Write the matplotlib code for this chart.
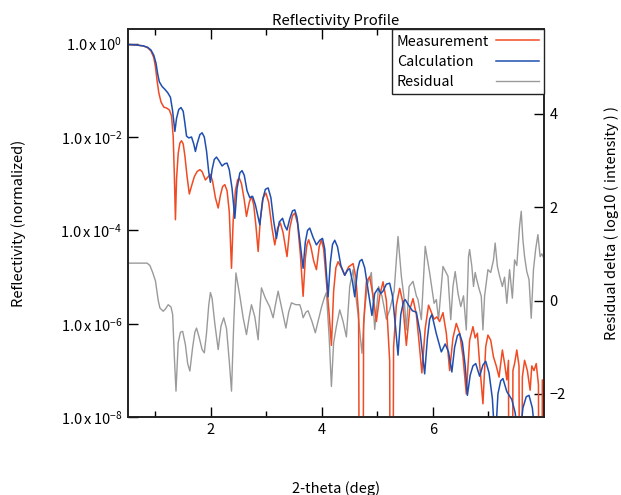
import numpy as np
import matplotlib
matplotlib.use("Agg")
import matplotlib.pyplot as plt
from matplotlib.ticker import FixedLocator

plt.rcParams['font.family'] = ['Noto Sans CJK JP', 'DejaVu Sans']
plt.rcParams['axes.unicode_minus'] = True

# ---------------- data ----------------
meas_x = [0.50, 0.65, 0.78, 0.86, 0.92, 0.97, 1.00, 1.03, 1.06, 1.10, 1.15, 1.20, 1.25, 1.29,
          1.32, 1.34, 1.36, 1.38, 1.41, 1.44, 1.47, 1.50, 1.53, 1.57, 1.61, 1.65, 1.70, 1.75,
          1.80, 1.84, 1.90, 1.95, 1.99, 2.03, 2.08, 2.13, 2.17, 2.21, 2.25, 2.29, 2.33, 2.37,
          2.40, 2.44, 2.48, 2.51, 2.55, 2.60, 2.64, 2.69, 2.73, 2.77, 2.81, 2.85, 2.89, 2.94,
          2.99, 3.04, 3.10, 3.15, 3.20, 3.25, 3.30, 3.37, 3.42, 3.47, 3.51, 3.56, 3.61, 3.66,
          3.70, 3.73, 3.76, 3.80, 3.85, 3.90, 3.95, 3.99, 4.03, 4.08, 4.13, 4.17, 4.21, 4.25,
          4.29, 4.35, 4.41, 4.48, 4.56, 4.61, 4.66, 4.70, 4.72, 4.75, 4.80, 4.86, 4.92, 4.98,
          5.04, 5.10, 5.16, 5.22, 5.25, 5.29, 5.34, 5.40, 5.45, 5.52, 5.58, 5.64, 5.70, 5.75,
          5.80, 5.86, 5.92, 5.97, 6.02, 6.07, 6.12, 6.18, 6.24, 6.30, 6.36, 6.42, 6.48, 6.54,
          6.60, 6.66, 6.72, 6.76, 6.80, 6.84, 6.90, 6.95, 6.99, 7.04, 7.09, 7.14, 7.19, 7.25,
          7.29, 7.33, 7.36, 7.39, 7.41, 7.44, 7.47, 7.51, 7.55, 7.58, 7.61, 7.65, 7.70, 7.75,
          7.78, 7.82, 7.86, 7.90, 7.93, 7.95, 7.97, 8.00]
meas_log10 = [-0.02, -0.03, -0.05, -0.09, -0.16, -0.30, -0.50, -0.80, -1.05, -1.25, -1.36, -1.38, -1.42, -1.55,
              -2.00, -2.80, -3.77, -2.90, -2.35, -2.13, -2.08, -2.15, -2.40, -2.85, -3.22, -3.05, -2.85, -2.74,
              -2.70, -2.74, -2.92, -2.85, -2.80, -2.95, -3.30, -3.52, -3.25, -3.06, -3.02, -3.15, -3.60, -4.81,
              -3.80, -3.15, -2.92, -2.88, -3.00, -3.35, -3.70, -3.40, -3.27, -3.45, -3.90, -4.45, -3.75, -3.30,
              -3.20, -3.40, -3.95, -4.31, -3.95, -3.84, -4.05, -4.56, -3.95, -3.68, -3.63, -3.85, -4.50, -5.41,
              -4.60, -4.30, -4.20, -4.35, -4.65, -4.84, -4.35, -4.20, -4.40, -5.10, -5.80, -6.46, -5.30, -4.80,
              -4.67, -4.80, -4.96, -4.78, -4.71, -5.00, -5.80, -20.0, -20.0, -6.00, -5.10, -4.99, -5.40, -5.95,
              -5.40, -5.10, -5.50, -6.80, -20.0, -6.50, -5.60, -5.24, -5.50, -6.46, -5.70, -5.46, -5.80, -6.40,
              -7.05, -6.10, -5.60, -5.75, -5.90, -5.85, -5.95, -5.76, -6.20, -7.00, -6.30, -5.99, -6.20, -6.70,
              -7.50, -6.35, -6.06, -6.30, -6.20, -6.85, -7.71, -6.49, -6.24, -6.35, -6.71, -6.90, -7.14, -6.56,
              -6.85, -7.20, -6.78, -20.0, -20.0, -7.00, -6.85, -6.56, -6.90, -20.0, -7.14, -6.78, -7.00, -7.42,
              -6.90, -7.00, -6.85, -7.30, -20.0, -20.0, -7.20, -7.30]

calc_x = [0.50, 0.65, 0.78, 0.86, 0.92, 0.97, 1.01, 1.04, 1.07, 1.12, 1.17, 1.22, 1.27, 1.31,
          1.35, 1.38, 1.42, 1.46, 1.50, 1.53, 1.56, 1.60, 1.65, 1.69, 1.72, 1.75, 1.80, 1.84,
          1.88, 1.92, 1.96, 1.99, 2.02, 2.06, 2.10, 2.14, 2.20, 2.25, 2.29, 2.33, 2.38, 2.43,
          2.47, 2.52, 2.56, 2.60, 2.65, 2.70, 2.75, 2.80, 2.88, 2.93, 2.98, 3.03, 3.08, 3.13,
          3.18, 3.23, 3.29, 3.33, 3.37, 3.42, 3.47, 3.51, 3.55, 3.60, 3.66, 3.70, 3.74, 3.78,
          3.84, 3.90, 3.96, 4.01, 4.05, 4.08, 4.11, 4.15, 4.19, 4.23, 4.28, 4.34, 4.41, 4.46,
          4.50, 4.55, 4.59, 4.64, 4.68, 4.72, 4.77, 4.84, 4.90, 4.95, 5.01, 5.06, 5.10, 5.16,
          5.22, 5.27, 5.32, 5.37, 5.42, 5.47, 5.50, 5.56, 5.63, 5.70, 5.77, 5.85, 5.90, 5.94,
          5.98, 6.06, 6.15, 6.22, 6.28, 6.34, 6.39, 6.44, 6.48, 6.53, 6.58, 6.62, 6.67, 6.72,
          6.77, 6.84, 6.90, 6.95, 7.01, 7.07, 7.12, 7.17, 7.22, 7.26, 7.33, 7.42, 7.48, 7.55,
          7.62, 7.68, 7.73, 7.79, 7.86, 7.93, 8.00]
calc_log10 = [-0.02, -0.03, -0.05, -0.08, -0.14, -0.25, -0.42, -0.65, -0.82, -0.92, -0.98, -1.05, -1.15, -1.45,
              -1.88, -1.60, -1.41, -1.37, -1.45, -1.70, -1.98, -2.02, -2.00, -2.15, -2.31, -2.15, -1.95, -1.91,
              -2.00, -2.30, -2.75, -2.97, -2.70, -2.48, -2.43, -2.50, -2.62, -2.57, -2.56, -2.70, -3.10, -3.74,
              -3.10, -2.77, -2.72, -2.82, -3.15, -3.30, -3.27, -3.45, -3.88, -3.35, -3.12, -3.09, -3.30, -3.80,
              -4.17, -3.82, -3.74, -3.90, -3.99, -3.75, -3.58, -3.56, -3.72, -4.20, -4.81, -4.25, -4.00, -3.95,
              -4.15, -4.31, -4.21, -4.17, -4.40, -4.90, -5.42, -4.70, -4.30, -4.21, -4.35, -4.75, -4.96, -4.85,
              -4.82, -5.10, -5.42, -4.85, -4.66, -4.62, -4.80, -5.35, -5.82, -5.35, -5.24, -5.35, -5.30, -5.15,
              -5.13, -5.40, -6.00, -6.67, -5.80, -5.52, -5.48, -5.60, -5.72, -5.75, -6.20, -7.07, -6.30, -5.90,
              -5.80, -6.21, -6.60, -6.43, -6.60, -7.03, -6.50, -6.25, -6.21, -6.40, -6.90, -7.53, -7.10, -6.90,
              -6.85, -7.12, -6.88, -6.80, -7.05, -7.60, -8.60, -7.50, -7.22, -7.17, -7.45, -7.62, -7.90, -8.60,
              -7.80, -7.56, -7.53, -7.80, -8.60, -8.80, -8.90]

resid_x = [0.50, 0.85, 0.90, 0.95, 1.00, 1.05, 1.08, 1.14, 1.18, 1.23, 1.28, 1.31, 1.34, 1.37,
           1.41, 1.45, 1.49, 1.54, 1.58, 1.62, 1.67, 1.71, 1.74, 1.79, 1.84, 1.88, 1.92, 1.96,
           1.99, 2.02, 2.07, 2.13, 2.18, 2.23, 2.28, 2.33, 2.37, 2.41, 2.45, 2.52, 2.58, 2.64,
           2.69, 2.73, 2.79, 2.85, 2.88, 2.91, 2.98, 3.06, 3.12, 3.16, 3.21, 3.28, 3.35, 3.40,
           3.45, 3.53, 3.60, 3.63, 3.66, 3.71, 3.75, 3.82, 3.88, 3.94, 3.99, 4.04, 4.08, 4.13,
           4.17, 4.21, 4.26, 4.32, 4.38, 4.44, 4.50, 4.56, 4.61, 4.66, 4.72, 4.77, 4.82, 4.89,
           4.95, 5.02, 5.08, 5.16, 5.22, 5.30, 5.37, 5.43, 5.48, 5.52, 5.57, 5.64, 5.70, 5.73,
           5.79, 5.86, 5.94, 6.02, 6.06, 6.10, 6.18, 6.27, 6.32, 6.36, 6.40, 6.45, 6.50, 6.55,
           6.60, 6.64, 6.66, 6.70, 6.73, 6.76, 6.79, 6.83, 6.87, 6.90, 6.93, 6.99, 7.04, 7.09,
           7.12, 7.16, 7.20, 7.25, 7.29, 7.33, 7.38, 7.43, 7.47, 7.51, 7.56, 7.59, 7.62, 7.65,
           7.69, 7.73, 7.77, 7.81, 7.85, 7.89, 7.93, 7.96, 8.00]
resid_delta = [0.80, 0.80, 0.75, 0.60, 0.42, 0.00, -0.16, -0.23, -0.18, -0.09, -0.14, -0.30, -1.20, -1.94,
               -0.90, -0.68, -0.66, -0.95, -1.35, -1.51, -1.00, -0.68, -0.59, -0.80, -1.05, -1.12, -0.70, -0.10,
               0.17, 0.05, -0.50, -1.05, -0.55, -0.37, -0.60, -1.30, -1.94, -0.50, 0.59, 0.10, -0.37, -0.73,
               -0.35, -0.09, -0.35, -0.84, -0.20, 0.27, 0.05, -0.14, -0.37, -0.10, 0.20, -0.20, -0.59, -0.25,
               -0.05, -0.09, -0.09, -0.20, -0.37, -0.25, -0.22, -0.45, -0.69, -0.40, -0.15, 0.05, 0.17, -0.80,
               -1.84, -0.90, -0.55, -0.20, -0.45, -0.78, 0.30, 0.66, 0.10, -0.40, -1.13, -0.20, 0.35, 0.60,
               -0.62, 0.30, 0.10, -0.40, -0.20, 0.20, 1.37, 0.52, 0.05, -0.63, 0.30, 0.41, 0.10, 0.02,
               -0.41, 1.16, 0.59, -0.06, 0.02, -0.41, 0.73, 0.52, -0.41, 0.30, 0.62, 0.16, -0.13, 0.10,
               -0.63, 0.94, 1.09, 0.73, 0.30, 0.60, 0.44, 0.25, 0.09, -0.63, 0.10, 0.66, 0.60, 0.87,
               1.23, 0.73, 0.52, 0.30, 0.50, -0.06, 0.66, 0.05, 0.87, 0.75, 1.59, 1.91, 1.30, 0.94,
               0.62, 0.45, -0.38, 0.66, 1.10, 1.41, 0.94, 1.00, 0.90]

left_ticks = [1e0, 1e-2, 1e-4, 1e-6, 1e-8]
left_ticklabels = [r'$\mathregular{1.0\,x\,10^{0}}$', r'$\mathregular{1.0\,x\,10^{-2}}$',
                   r'$\mathregular{1.0\,x\,10^{-4}}$', r'$\mathregular{1.0\,x\,10^{-6}}$',
                   r'$\mathregular{1.0\,x\,10^{-8}}$']
right_ticks = [-2, 0, 2, 4]
x_major = [2, 4, 6]
x_minor = [1, 3, 5, 7]

RED = '#f04b23'
BLUE = '#1e4fb0'
GRAY = '#9a9a9a'

# ---------------- figure ----------------
fig = plt.figure(figsize=(6.21, 4.95), dpi=100)
ax = fig.add_axes([127.7 / 621, 1 - 417.3 / 495, (544 - 127.7) / 621, (417.3 - 29.5) / 495])
ax2 = ax.twinx()

ax.set_zorder(ax2.get_zorder() + 1)
ax.patch.set_visible(False)

l_res, = ax2.plot(resid_x, resid_delta, color=GRAY, lw=1.0, label='Residual')
l_meas, = ax.plot(meas_x, 10 ** np.array(meas_log10), color=RED, lw=1.1, label='Measurement')
l_calc, = ax.plot(calc_x, 10 ** np.array(calc_log10), color=BLUE, lw=1.1, label='Calculation')

ax.set_yscale('log')
ax.set_xlim(0.5, 8.0)
ax.set_ylim(1e-8, 2.0)
ax2.set_ylim(-2.5, np.log10(2.0) + 5.5)

ax.yaxis.set_major_locator(FixedLocator(left_ticks))
ax.yaxis.set_minor_locator(FixedLocator([]))
ax.set_yticklabels(left_ticklabels)
ax.xaxis.set_major_locator(FixedLocator(x_major))
ax.xaxis.set_minor_locator(FixedLocator(x_minor))
ax2.yaxis.set_major_locator(FixedLocator(right_ticks))

ax.tick_params(axis='both', which='major', direction='in', length=7.5, width=1.0, labelsize=10.5, pad=4)
ax.tick_params(axis='x', which='both', top=True)
ax.tick_params(axis='x', which='minor', direction='in', length=4, width=1.0)
ax.tick_params(axis='y', which='both', right=False)
ax2.tick_params(axis='y', which='major', direction='in', length=7.5, width=1.0, labelsize=10.5, pad=4)

for a in (ax, ax2):
    for s in a.spines.values():
        s.set_linewidth(1.2)
        s.set_color('#222222')

ax.set_title('Reflectivity Profile', fontsize=10.8, pad=3)
ax.set_xlabel('2-theta (deg)', fontsize=10.5)
ax.xaxis.set_label_coords(0.5, -0.165)
ax.set_ylabel('Reflectivity (normalized)', fontsize=10.5)
ax.yaxis.set_label_coords(-0.245, 0.5)
ax2.set_ylabel('Residual delta ( log10 ( intensity ) )', fontsize=10.5)
ax2.yaxis.set_label_coords(1.145, 0.5)

leg = ax.legend(handles=[l_meas, l_calc, l_res], loc='upper right', markerfirst=False,
                fontsize=10.3, frameon=True, fancybox=False, borderaxespad=0,
                handlelength=3.0, handletextpad=0.5, labelspacing=0.45, borderpad=0.35)
leg.get_frame().set_edgecolor('#222222')
leg.get_frame().set_linewidth(1.0)
leg.get_frame().set_alpha(1)

# left-align the legend texts while keeping the lines aligned on the right
fig.canvas.draw()
renderer = fig.canvas.get_renderer()
widths = [t.get_window_extent(renderer).width for t in leg.get_texts()]
maxw = max(widths)
rows = leg._legend_handle_box.get_children()[0].get_children()
for row, w in zip(rows, widths):
    row.sep = row.sep + (maxw - w) * 72.0 / fig.dpi

fig.savefig('out.png', dpi=100)
